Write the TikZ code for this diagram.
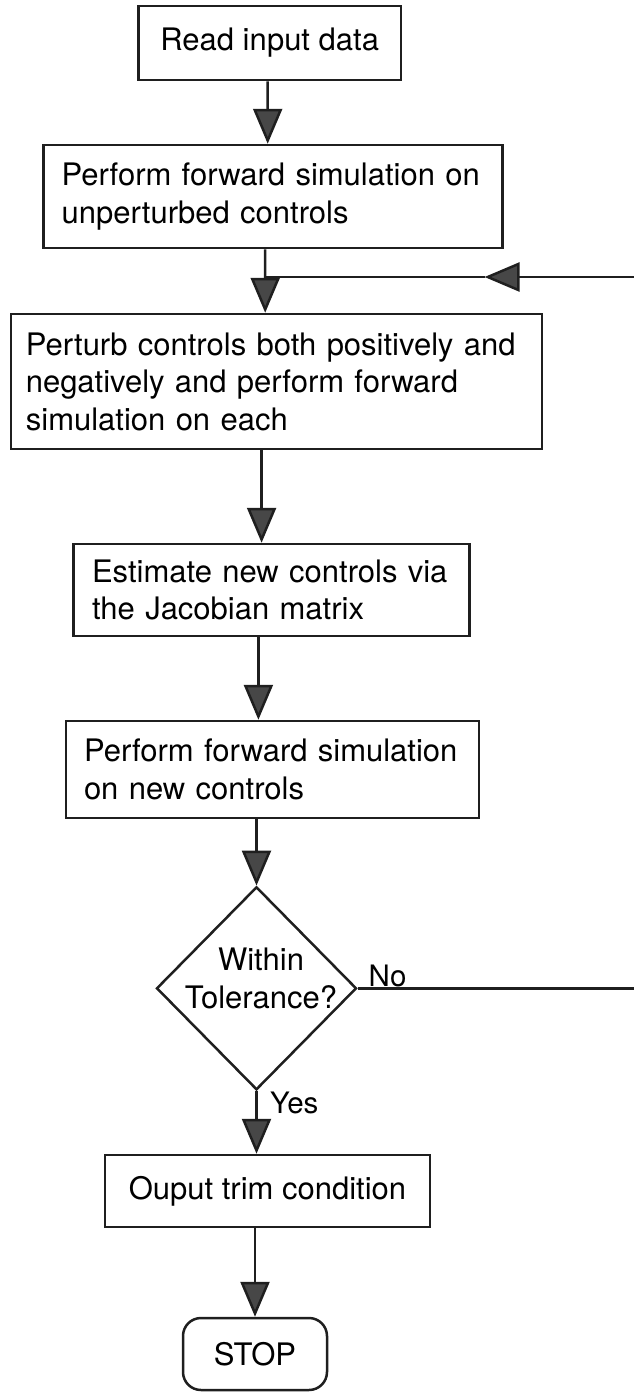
\documentclass[tikz,border=0pt]{standalone}
\usepackage{fontspec}
\setmainfont{TeX Gyre Heros}
\usetikzlibrary{arrows.meta,shapes.geometric}
\newcommand\bxfont{\fontsize{31}{37.5}\selectfont}
\newcommand\lbfont{\fontsize{29.5}{35}\selectfont}
\tikzset{
  ink/.style={draw=black!88, line width=2.5pt},
  box/.style={ink, rectangle, inner ysep=0pt, font=\bxfont, align=left},
  cbox/.style={ink, rectangle, inner sep=0pt, font=\bxfont, align=center},
  flow/.style={ink, line join=miter,
    -{Triangle[width=29pt,length=35pt,fill=black!72]}},
  plain/.style={ink},
  lbl/.style={inner sep=0pt, font=\lbfont}
}
\begin{document}
\begin{tikzpicture}[x=1pt,y=-1pt]
\useasboundingbox (0,0) rectangle (633,1392);

\node[cbox, minimum width=262.4pt, minimum height=74pt] (b1) at (269.7,43) {Read input data};
\node[box, inner xsep=18pt, text width=423pt, minimum height=103pt] (b2) at (273.1,196.5)
  {Perform forward simulation on\\unperturbed controls};
\node[box, inner xsep=15pt, text width=500.9pt, minimum height=135pt] (b3) at (276.35,381.5)
  {Perturb controls both positively and\\negatively and perform forward\\simulation on each};
\node[box, inner xsep=18.5pt, text width=359pt, minimum height=92pt] (b4) at (271.5,590)
  {Estimate new controls via\\the Jacobian matrix};
\node[box, inner xsep=18pt, text width=377pt, minimum height=97pt] (b5) at (272.5,769.5)
  {Perform forward simulation\\on new controls};
\node[ink, diamond, inner sep=0pt, minimum width=200pt, minimum height=203pt] (d) at (256.5,988.3) {};
\node[inner sep=0pt, font=\bxfont, align=center] (dt) at (261,978.5) {Within\\Tolerance?};
\node[cbox, minimum width=325pt, minimum height=72pt] (b6) at (267.5,1191) {Ouput trim condition};
\node[cbox, rounded corners=18pt, minimum width=144pt, minimum height=72pt] (stop) at (255,1354) {STOP};

\coordinate (J) at (265.2,277);
\coordinate (R1) at (645,988.3);
\coordinate (R2) at (645,277);
\coordinate (T) at (484.5,277);

\draw[flow] ([xshift=-2pt]b1.south) -- ([xshift=-5.4pt]b2.north);
\draw[plain] ([xshift=-7.9pt]b2.south) -- (J);
\draw[flow] (J) -- ([xshift=-11.15pt]b3.north);
\draw[flow] ([xshift=-14.75pt]b3.south) -- ([xshift=-9.9pt]b4.north);
\draw[flow] ([xshift=-13.1pt]b4.south) -- ([xshift=-14.1pt]b5.north);
\draw[flow] ([xshift=-16pt]b5.south) -- (d.north);
\draw[flow] (d.south) -- ([xshift=-11pt]b6.north);
\draw[flow] ([xshift=-12.5pt]b6.south) -- (stop.north);
\draw[flow] (d.east) -- (R1) -- (R2) -- (T);
\draw[plain] (T) -- (J);

\node[lbl, anchor=south west] (no) at (368.5,987) {No};
\node[lbl, anchor=west] (yes) at (270,1103) {Yes};
\end{tikzpicture}
\end{document}
